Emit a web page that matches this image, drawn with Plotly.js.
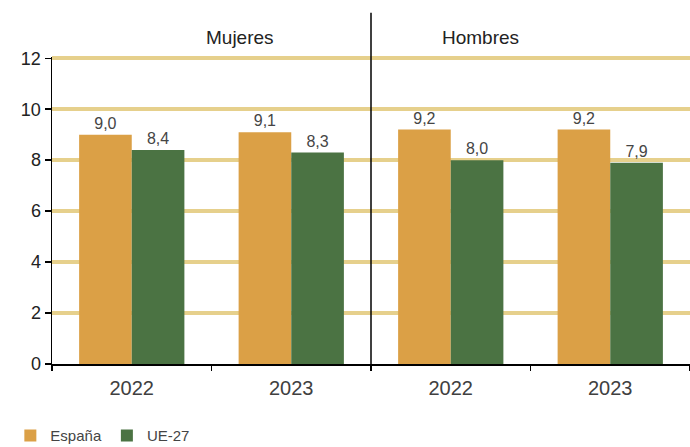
<!DOCTYPE html>
<html>
<head>
<meta charset="utf-8">
<script src="https://cdn.plot.ly/plotly-3.0.1.min.js"></script>
<style>html,body{margin:0;padding:0;background:#fff;}#chart{width:690px;height:447px;}</style>
</head>
<body>
<div id="chart"></div>
<script>
const years = ["2022", "2023"];
const panels = ["Mujeres", "Hombres"];
const espanaMujeres = [9.0, 9.1];
const ue27Mujeres = [8.4, 8.3];
const espanaHombres = [9.2, 9.2];
const ue27Hombres = [8.0, 7.9];
const seriesNames = ["España", "UE-27"];
const yTicks = [0, 2, 4, 6, 8, 10, 12];

const orange = "#DBA046";
const green = "#4B7343";
const FF = "Liberation Sans, Arial, sans-serif";
const labelFont = {family: FF, size: 16, color: "#454545"};

function bar(name, x, y, color, xa, showlegend) {
  return {
    type: "bar", name: name, x: x, y: y, xaxis: xa, yaxis: "y",
    marker: {color: color}, showlegend: showlegend, legendgroup: name,
    texttemplate: "%{y:.1f}", textposition: "outside", textfont: labelFont,
    cliponaxis: false, hoverinfo: "skip"
  };
}

const data = [
  bar(seriesNames[0], years, espanaMujeres, orange, "x", true),
  bar(seriesNames[1], years, ue27Mujeres, green, "x", true),
  bar(seriesNames[0], years, espanaHombres, orange, "x2", false),
  bar(seriesNames[1], years, ue27Hombres, green, "x2", false)
];

const xCommon = {
  type: "category", tickson: "boundaries", ticks: "outside", ticklen: 5,
  tickcolor: "#000", tickwidth: 1.5, showline: true, linecolor: "#000", linewidth: 1.5,
  showgrid: false, zeroline: false, anchor: "y", ticklabelstandoff: 5,
  tickfont: {family: FF, size: 20, color: "#404040"}
};

const layout = {
  width: 690, height: 447,
  margin: {l: 52, r: 0, t: 57, b: 83, autoexpand: false},
  paper_bgcolor: "#fff", plot_bgcolor: "#fff",
  separators: ",.",
  barmode: "group", bargap: 0.34, bargroupgap: 0,
  font: {family: FF, color: "#222"},
  xaxis: Object.assign({}, xCommon, {domain: [0, 0.5]}),
  xaxis2: Object.assign({}, xCommon, {domain: [0.5, 1]}),
  yaxis: {
    range: [0, 12.05], tickvals: yTicks, ticks: "outside", ticklen: 6,
    tickcolor: "#000", tickwidth: 1.5, showline: true, linecolor: "#000", linewidth: 1.5,
    showgrid: true, gridcolor: "#E6D08C", gridwidth: 4, zeroline: false,
    tickfont: {family: FF, size: 18, color: "#222"}
  },
  showlegend: true,
  legend: {
    orientation: "h", x: 0.015, xref: "container", xanchor: "left",
    y: 0.025, yref: "container", yanchor: "middle",
    font: {family: FF, size: 15, color: "#444"},
    itemwidth: 30, tracegroupgap: 0, itemsizing: "constant"
  },
  annotations: [
    {text: panels[0], xref: "paper", yref: "paper", x: 0.238, y: 1.105, showarrow: false,
     font: {family: FF, size: 19, color: "#222"}},
    {text: panels[1], xref: "paper", yref: "paper", x: 0.735, y: 1.105, showarrow: false,
     font: {family: FF, size: 19, color: "#222"}}
  ],
  shapes: [
    {type: "line", xref: "paper", yref: "paper", x0: 0.5, x1: 0.5, y0: -0.016, y1: 1.144,
     line: {color: "#000", width: 1.5}}
  ]
};

Plotly.newPlot("chart", data, layout, {displayModeBar: false, staticPlot: true});
</script>
</body>
</html>
